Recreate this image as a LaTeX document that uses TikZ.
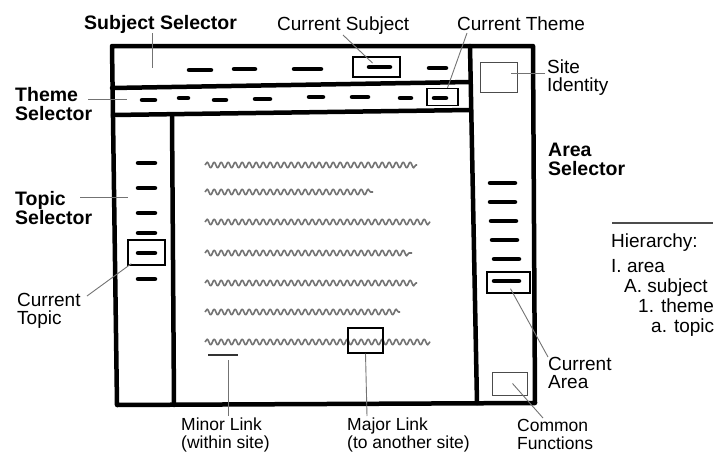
\documentclass[tikz,border=0pt]{standalone}
\usepackage{fontspec}
\setmainfont{Liberation Sans}
\usetikzlibrary{positioning}
\usetikzlibrary{calc}
\usetikzlibrary{decorations.pathmorphing}
\tikzset{
	every node/.style = {font=\fontsize{19}{18}\selectfont, inner sep=0pt, align=left}
}
\tikzset{
	heading/.style = {font=\fontsize{19.5}{19}\selectfont\bfseries},
	tight/.style = {font=\fontsize{17.5}{18}\selectfont},
	frameline/.style = {line width=4.5pt, line cap=round, line join=round},
	linkbar/.style = {line width=4.5pt, line cap=round},
	selbox/.style = {draw, line width=1.4pt},
	thinbox/.style = {draw=black!70, line width=1pt},
	leader/.style = {draw=black!55, line width=0.9pt},
	scribble/.style = {draw=black!55, line width=1.6pt, line join=round,
		decorate, decoration={snake, segment length=7pt, amplitude=2.8pt}}
}

\begin{document}
\begin{tikzpicture}[x=1pt, y=-1pt]
        \useasboundingbox (0,0) rectangle (718,455);

        % Page frame and its columns
        \draw[frameline] (112,46) -- (533,46) -- (535,403) -- (117,405) -- cycle;
        \draw[frameline] (470,46) -- (477,403);         % right column
        \draw[frameline] (112,88) -- (470,82);          % below subject band
        \draw[frameline] (113,115) -- (470,110);        % below theme band
        \draw[frameline] (172,115) -- (174,405);        % topic column

        % Link bars in the selectors
        \foreach \xa/\xb/\y in {189/211/70, 234/255/69, 294/321/69, 369/390/67, 429/446/68}
            \draw[linkbar] (\xa,\y) -- (\xb,\y);
        \foreach \xa/\xb/\y in {142/155/100, 179/188/98, 214/226/100, 255/270/99, 309/323/97, 352/368/97, 400/411/98, 434/446/98}
            \draw[linkbar] (\xa,\y) -- (\xb,\y);
        \foreach \y in {163, 188, 213, 233, 253, 279}
            \draw[linkbar] (138,\y) -- (155,\y);
        \foreach \y/\xa in {183/490, 202/490, 221/491, 240/492, 259/494, 281/494}
            \draw[linkbar] (\xa,\y) -- ({\xa+25},\y);

        % Selection boxes
        \node[selbox, minimum width=47pt, minimum height=20pt] (cursubjbox) at (376.5,67) {};
        \node[selbox, minimum width=31pt, minimum height=17pt] (curthemebox) at (442.5,97) {};
        \node[selbox, minimum width=37pt, minimum height=25pt] (curtopicbox) at (146.5,252.5) {};
        \node[selbox, minimum width=43pt, minimum height=21pt] (curareabox) at (508.5,282.5) {};
        \node[thinbox, minimum width=37pt, minimum height=30pt] (siteidbox) at (498.5,77) {};
        \node[thinbox, minimum width=35pt, minimum height=23pt] (commonbox) at (509.5,383.5) {};

        % Body text
        \foreach \y/\xend in {165/417, 192/373, 222/430, 253/412, 283/417, 312/400, 342/430}
            \draw[scribble] (205,\y) -- (\xend,\y);
        \draw[black!80, line width=1.3pt] (208,355) -- (238,355);
        \node[selbox, minimum width=35pt, minimum height=25pt] (majorbox) at (365.5,340.5) {};
        \coordinate (minortip) at (228,360);

        % Labels
        \node[heading, anchor=north west] (subjsel) at (84,15) {Subject Selector};
        \node[anchor=north west] (cursubj) at (277,17) {Current Subject};
        \node[anchor=north west] (curtheme) at (457,17) {Current Theme};
        \node[heading, anchor=north west] (themesel) at (15,87) {Theme\\Selector};
        \node[heading, anchor=north west] (topicsel) at (15,191) {Topic\\Selector};
        \node[anchor=north west] (curtopic) at (17,293) {Current\\Topic};
        \node[anchor=north west] (siteid) at (547,60) {Site\\Identity};
        \node[heading, anchor=north west] (areasel) at (548,143) {Area\\Selector};
        \node[anchor=north west] (curarea) at (548,357) {Current\\Area};
        \node[tight, anchor=north west] (commonf) at (517,419) {Common\\Functions};
        \node[tight, anchor=north west] (minorlink) at (181,418) {Minor Link\\(within site)};
        \node[tight, anchor=north west] (majorlink) at (347,418) {Major Link\\(to another site)};

        % Hierarchy key
        \draw[black!70, line width=1.3pt] (612,223) -- (713,223);
        \node[anchor=base west] (hier) at (611,247) {Hierarchy:};
        \node[anchor=base west] (hierarea) at (611,272) {I. area};
        \node[anchor=base west] (hiersubj) at (624,292) {A. subject};
        \node[anchor=base west] (hiertheme) at (638,312) {1. theme};
        \node[anchor=base west] (hiertopic) at (651,332) {a. topic};

        % Leaders
        \coordinate (subjpt) at (152,68);
        \draw[leader] ($(subjsel.north west)+(68,18)$) -- (subjpt);
        \draw[leader] ($(cursubj.north west)+(66,18)$) -- ($(cursubjbox.center)+(-4,-4)$);
        \draw[leader] ($(curtheme.north west)+(10,16)$) -- ($(curthemebox.north)+(5,0)$);
        \draw[leader] ($(themesel.north west)+(73,12)$) -- ++(39,0);
        \draw[leader] ($(topicsel.north west)+(65,6)$) -- ++(48,0);
        \draw[leader] ($(curtopic.north west)+(70,3)$) -- ($(curtopicbox.south west)+(4,-2)$);
        \draw[leader] ($(siteid.north west)+(-2,13)$) -- ($(siteidbox.east)+(-7,-4)$);
        \draw[leader] (curarea.north west) -- ($(curareabox.south)+(2,-5)$);
        \draw[leader] ($(commonf.north west)+(26,-1)$) -- ($(commonbox.center)+(3,0)$);
        \draw[leader] ($(minorlink.north west)+(47,-2)$) -- (minortip);
        \draw[leader] ($(majorlink.north west)+(20,-2)$) -- (majorbox.south);
\end{tikzpicture}
\end{document}
